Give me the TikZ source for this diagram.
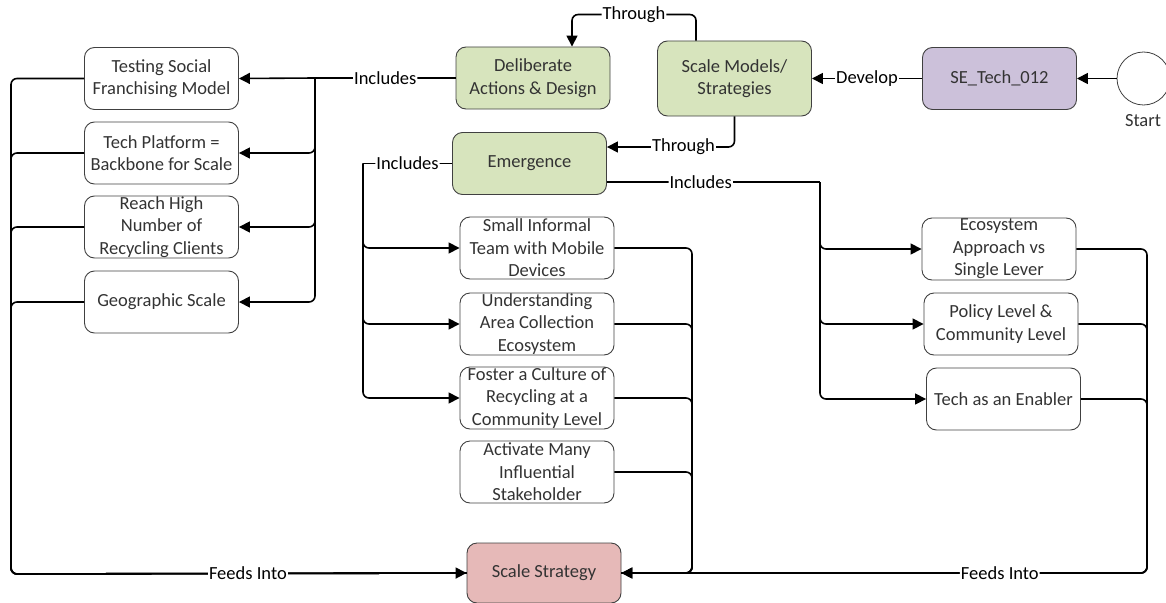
\documentclass[tikz,border=0pt]{standalone}
\usepackage{fontspec}
\setmainfont{Carlito}
\usetikzlibrary{arrows.meta}
\definecolor{boxline}{HTML}{404040}
\definecolor{greenfill}{HTML}{D7E4BD}
\definecolor{purplefill}{HTML}{CCC1DA}
\definecolor{redfill}{HTML}{E6B9B8}
\definecolor{txt}{HTML}{333333}
\begin{document}
\begin{tikzpicture}[x=1pt,y=-1pt,
  box/.style={draw=boxline, line width=0.9pt, rounded corners=10pt, align=center,
    inner sep=0pt, minimum width=154pt, minimum height=62pt, text=txt,
    font=\fontsize{18.5}{22.5}\selectfont},
  conn/.style={line width=1.6pt, rounded corners=6pt},
  arr/.style={conn, -{Triangle[length=11pt,width=11pt]}},
  lbl/.style={fill=white, inner sep=1pt, font=\fontsize{18.5}{22}\selectfont, text=black}
]
\useasboundingbox (0,0) rectangle (1166,602);

% left column
\node[box] (ts) at (161.5,78.5) {Testing Social\\Franchising Model};
\node[box] (tp) at (161.5,153) {Tech Platform =\\Backbone for Scale};
\node[box] (rh) at (161.5,227) {Reach High\\Number of\\Recycling Clients};
\node[box] (gs) at (161.5,302) {Geographic Scale};

% main chain
\node[box, fill=greenfill] (dd) at (533,78) {Deliberate\\Actions \& Design};
\node[box, fill=greenfill, minimum height=75pt] (sm) at (734.5,78.5) {Scale Models/\\Strategies};
\node[box, fill=greenfill] (em) at (529.5,163.5) {Emergence};
\node[box, fill=purplefill] (se) at (999.5,78.5) {SE\_Tech\_012};
\node[circle, draw=boxline, line width=0.8pt, minimum size=53pt, inner sep=0pt] (st) at (1143.5,78.5) {};
\node[text=txt, font=\fontsize{18.5}{22.5}\selectfont] (stl) at (1143,121) {Start};

% middle column
\node[box] (sit) at (537,248) {Small Informal\\Team with Mobile\\Devices};
\node[box] (uac) at (537,324) {Understanding\\Area Collection\\Ecosystem};
\node[box] (fcr) at (537,398) {Foster a Culture of\\Recycling at a\\Community Level};
\node[box] (ami) at (537,472) {Activate Many\\Influential\\Stakeholder};

% right column
\node[box] (eco) at (999,249) {Ecosystem\\Approach vs\\Single Lever};
\node[box] (pol) at (1001,324) {Policy Level \&\\Community Level};
\node[box] (tec) at (1003.5,399) {Tech as an Enabler};

% target
\node[box, fill=redfill, minimum height=60pt] (ss) at (544,573) {Scale Strategy};

% junction points
\coordinate (lv) at (11,574);
\coordinate (mv) at (692,573);
\coordinate (rv) at (1147,573);
\coordinate (dj) at (315,78);
\coordinate (ej) at (363,163.5);
\coordinate (rj) at (820,182);

% start and top connectors
\draw[arr] (st.west) -- (se.east);
\draw[arr] (se.west) -- node[lbl]{Develop} (sm.east);
\draw[arr] ([xshift=-38.5pt]sm.north) -- ++(0,-26) -| node[lbl,pos=0.25]{Through} ([xshift=39pt]dd.north);
\draw[arr] (sm.south) |- node[lbl,pos=0.7]{Through} ([yshift=16.5pt]em.east);

% deliberate actions branch
\draw[arr] (dj) |- (tp.east);
\draw[arr] (dj) |- (rh.east);
\draw[arr] (dj) |- (gs.east);
\draw[arr] (dj) -- (ts.east);
\draw[conn] (dd.west) -- node[lbl]{Includes} (dj);

% emergence branches
\draw[arr] (ej) |- (sit.west);
\draw[arr] (ej) |- (uac.west);
\draw[arr] (ej) |- (fcr.west);
\draw[conn] (em.west) -- node[lbl]{Includes} (ej);
\draw[arr] (rj) |- (eco.west);
\draw[arr] (rj) |- (pol.west);
\draw[arr] (rj) |- (tec.west);
\draw[conn] ([yshift=-18.5pt]em.east) -- node[lbl,pos=0.44]{Includes} (rj);

% feeds into scale strategy
\draw[conn] (tp.west) -| (lv) -- (ss.west);
\draw[conn] (rh.west) -| (lv) -- (ss.west);
\draw[conn] (gs.west) -| (lv) -- (ss.west);
\draw[arr] (ts.west) -| (lv) -- node[lbl,pos=0.52]{Feeds Into} (ss.west);

\draw[conn] (uac.east) -| (mv) -- (ss.east);
\draw[conn] (fcr.east) -| (mv) -- (ss.east);
\draw[conn] (ami.east) -| (mv) -- (ss.east);
\draw[arr] (sit.east) -| (mv) -- (ss.east);

\draw[conn] (pol.east) -| (rv) -- (ss.east);
\draw[conn] (tec.east) -| (rv) -- (ss.east);
\draw[arr] (eco.east) -| (rv) -- node[lbl,pos=0.28]{Feeds Into} (ss.east);
\end{tikzpicture}
\end{document}
